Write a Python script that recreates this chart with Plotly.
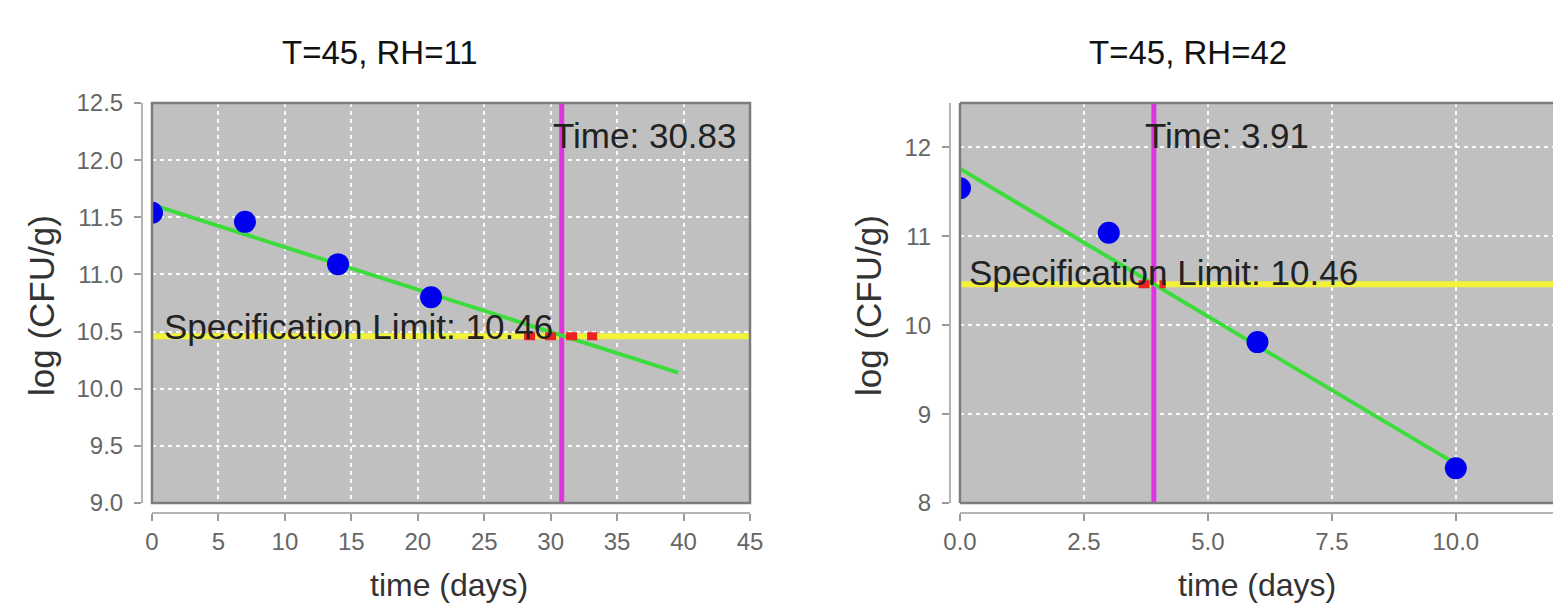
import plotly.graph_objects as go

# ---------------- data ----------------
left_title = "T=45, RH=11"
right_title = "T=45, RH=42"

left_days = [0, 7, 14, 21]
left_log_cfu = [11.54, 11.46, 11.09, 10.80]
right_days = [0, 3, 6, 10]
right_log_cfu = [11.54, 11.04, 9.81, 8.39]

left_fit_days = [0, 39.6]
left_fit_log = [11.61, 10.14]
right_fit_days = [0, 10]
right_fit_log = [11.76, 8.44]

spec_limit = 10.46
left_time = 30.83
right_time = 3.91
left_ci_days = [28.0, 33.5]
right_ci_days = [3.6, 4.15]

left_x_ticks = [0, 5, 10, 15, 20, 25, 30, 35, 40, 45]
left_y_ticks = [9.0, 9.5, 10.0, 10.5, 11.0, 11.5, 12.0, 12.5]
right_x_ticks = [0.0, 2.5, 5.0, 7.5, 10.0]
right_y_ticks = [8, 9, 10, 11, 12]

left_x_range = [0, 45]
left_y_range = [9, 12.5]
right_x_range = [0, 11.96]
right_y_range = [8, 12.5]

# ---------------- styling ----------------
W, H = 1553, 604
FONT = "Liberation Sans, Arial, sans-serif"
BG = "#c0c0c0"
YELLOW = "#f2f23a"
MAGENTA = "#e033e0"
GREEN = "#3ddc3d"
RED = "#ee2222"
BLUE = "#0000ee"

fig = go.Figure()


def add_panel(xa, ya, days, vals, fdays, fvals, tval, ci, xr, yr):
    # spec limit line
    fig.add_trace(go.Scatter(x=[xr[0], xr[1]], y=[spec_limit, spec_limit], mode="lines",
                             line=dict(color=YELLOW, width=6), xaxis=xa, yaxis=ya,
                             hoverinfo="skip"))
    # time vertical line
    fig.add_trace(go.Scatter(x=[tval, tval], y=[yr[0], yr[1]], mode="lines",
                             line=dict(color=MAGENTA, width=5), xaxis=xa, yaxis=ya,
                             hoverinfo="skip"))
    # regression line
    fig.add_trace(go.Scatter(x=fdays, y=fvals, mode="lines",
                             line=dict(color=GREEN, width=4), xaxis=xa, yaxis=ya,
                             hoverinfo="skip"))
    # red interval marks
    fig.add_trace(go.Scatter(x=ci, y=[spec_limit, spec_limit], mode="lines",
                             line=dict(color=RED, width=8, dash="11px,10px"), xaxis=xa, yaxis=ya,
                             hoverinfo="skip"))
    # observed points
    fig.add_trace(go.Scatter(x=days, y=vals, mode="markers",
                             marker=dict(color=BLUE, size=22), xaxis=xa, yaxis=ya))


add_panel("x", "y", left_days, left_log_cfu, left_fit_days, left_fit_log,
          left_time, left_ci_days, left_x_range, left_y_range)
add_panel("x2", "y2", right_days, right_log_cfu, right_fit_days, right_fit_log,
          right_time, right_ci_days, right_x_range, right_y_range)

y_dom = [1 - 503 / H, 1 - 103 / H]
x_line_pos = 1 - 513 / H

axis_common = dict(
    showline=True, linecolor="#b4b4b4", linewidth=2,
    ticks="outside", ticklen=7, tickwidth=1.5, tickcolor="#9a9a9a",
    showgrid=True, gridcolor="rgba(255,255,255,0.9)", gridwidth=1.5, griddash="4px,4px",
    zeroline=False, tickfont=dict(family=FONT, size=24, color="#666666"),
    anchor="free", fixedrange=True, automargin=False,
)

fig.update_layout(
    width=W, height=H,
    margin=dict(l=0, r=0, t=0, b=0, pad=0, autoexpand=False),
    paper_bgcolor="white", plot_bgcolor=BG,
    showlegend=False,
    font=dict(family=FONT),
    xaxis=dict(domain=[152 / W, 750 / W], range=left_x_range, tickvals=left_x_ticks,
               ticktext=[str(v) for v in left_x_ticks], position=x_line_pos, **axis_common),
    yaxis=dict(domain=y_dom, range=left_y_range, tickvals=left_y_ticks,
               ticktext=[f"{v:.1f}" for v in left_y_ticks], position=142 / W,
               ticklabelstandoff=6, **axis_common),
    xaxis2=dict(domain=[960 / W, 1.0], range=right_x_range, tickvals=right_x_ticks,
                ticktext=[f"{v:.1f}" for v in right_x_ticks], position=x_line_pos, **axis_common),
    yaxis2=dict(domain=y_dom, range=right_y_range, tickvals=right_y_ticks,
                ticktext=[str(v) for v in right_y_ticks], position=950 / W,
                ticklabelstandoff=6, **axis_common),
)

BORDER = dict(color="#7c7c7c", width=2.5)
fig.add_shape(type="rect", xref="x domain", yref="y domain", x0=0, x1=1, y0=0, y1=1,
              line=BORDER, layer="above")
for (x0, x1, y0, y1) in [(0, 0, 0, 1), (0, 1, 1, 1), (0, 1, 0, 0)]:
    fig.add_shape(type="line", xref="x2 domain", yref="y2 domain", x0=x0, x1=x1, y0=y0, y1=y1,
                  line=BORDER, layer="above")

ann = []
# panel titles
ann.append(dict(text=left_title, x=380 / W, y=1 - 53 / H, xref="paper", yref="paper",
                xanchor="center", yanchor="middle",
                showarrow=False, font=dict(size=33, color="#111111")))
ann.append(dict(text=right_title, x=1188 / W, y=1 - 53 / H, xref="paper", yref="paper",
                xanchor="center", yanchor="middle",
                showarrow=False, font=dict(size=33, color="#111111")))
# axis titles
for xc in (449 / W, 1257 / W):
    ann.append(dict(text="time (days)", x=xc, y=1 - 585 / H, xref="paper", yref="paper",
                    xanchor="center", yanchor="middle",
                    showarrow=False, font=dict(size=32, color="#333333")))
for xc in (41 / W, 868 / W):
    ann.append(dict(text="log (CFU/g)", x=xc, y=1 - 306 / H, xref="paper", yref="paper",
                    xanchor="center", yanchor="middle",
                    textangle=-90, showarrow=False, font=dict(size=35, color="#333333")))
# specification limit labels
ann.append(dict(text=f"Specification Limit: {spec_limit:.2f}", xref="x domain", yref="y",
                x=0, y=spec_limit, xanchor="left", yanchor="middle", xshift=10, yshift=10,
                showarrow=False, font=dict(size=35, color="#222222")))
ann.append(dict(text=f"Specification Limit: {spec_limit:.2f}", xref="x2 domain", yref="y2",
                x=0, y=spec_limit, xanchor="left", yanchor="middle", xshift=7, yshift=12,
                showarrow=False, font=dict(size=35, color="#222222")))
# time labels
ann.append(dict(text=f"Time: {left_time:.2f}", xref="x", yref="y domain",
                x=left_time, y=0.919, xanchor="left", yanchor="middle", xshift=-11,
                showarrow=False, font=dict(size=35, color="#222222")))
ann.append(dict(text=f"Time: {right_time:.2f}", xref="x2", yref="y2 domain",
                x=right_time, y=0.919, xanchor="left", yanchor="middle", xshift=-11,
                showarrow=False, font=dict(size=35, color="#222222")))
fig.update_layout(annotations=ann)

fig.write_html("out.html")
